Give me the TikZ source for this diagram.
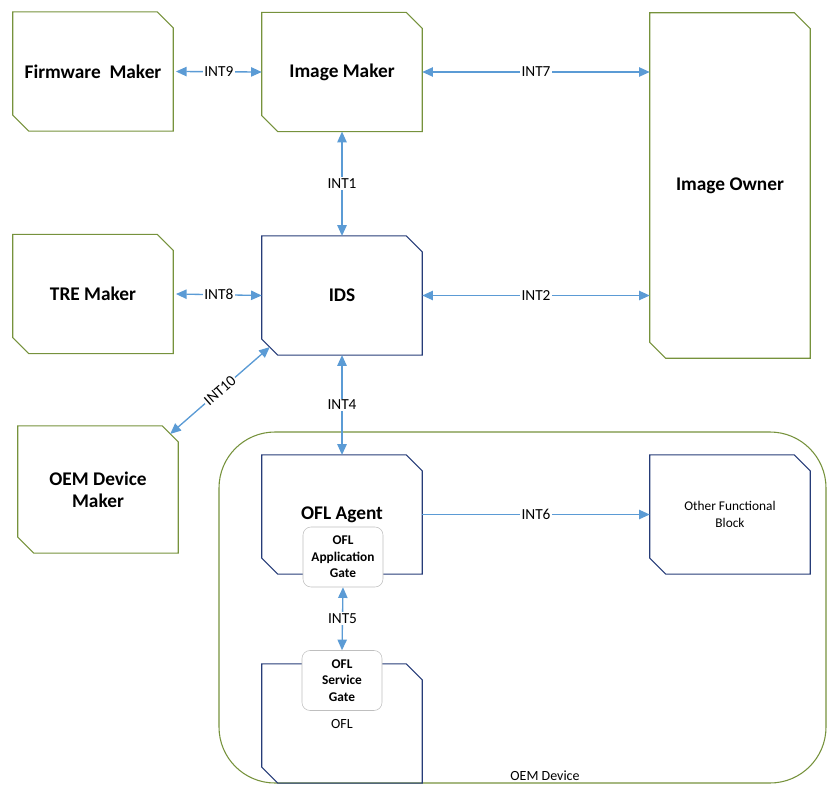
\documentclass[tikz,border=0pt]{standalone}
\usepackage{fontspec}
\setmainfont{Carlito}
\usetikzlibrary{arrows.meta}
\definecolor{boxgreen}{RGB}{118,146,60}
\definecolor{boxblue}{RGB}{38,60,120}
\definecolor{linkblue}{RGB}{91,155,213}
\definecolor{gategray}{RGB}{191,191,191}
\tikzset{
  party/.style={minimum width=120pt,minimum height=89pt,inner sep=2pt,align=center,font=\fontsize{14.5}{16.5}\selectfont\bfseries},
  unit/.style={minimum width=120pt,minimum height=89pt,inner sep=2pt,align=center,font=\fontsize{10}{12.5}\selectfont},
  gate/.style={draw=gategray,fill=white,rounded corners=6pt,minimum width=60pt,minimum height=45pt,inner sep=1pt,align=center,font=\fontsize{10}{12.5}\selectfont\bfseries},
  link/.style={draw=linkblue,line width=1pt},
  intf/.style={fill=white,inner sep=1pt,font=\fontsize{11.5}{13}\selectfont},
}
% outline with cut corners (north east and south west)
\newcommand\cutcorners[2]{\draw[#2,line width=0.8pt] (#1.north west) -- ([xshift=-12pt]#1.north east) -- ([yshift=-12pt]#1.north east) -- (#1.south east) -- ([xshift=12pt]#1.south west) -- ([yshift=12pt]#1.south west) -- cycle;}
\begin{document}
\begin{tikzpicture}[x=0.75pt,y=-0.75pt,>={Triangle[length=8pt,width=7pt]}]
\useasboundingbox (0,0) rectangle (827,785);
%\draw[step=50,gray,very thin] (0,0) grid (827,785); %background grid
\draw[boxgreen,line width=0.8pt,rounded corners=42pt] (219,432) rectangle (826,783);
\node[font=\fontsize{10.5}{12}\selectfont,inner sep=1pt] (devlbl) at (545,776) {OEM Device};

\node[party] (fwmk) at (93,71.5) {Firmware\ \ Maker};
\node[party] (imgmk) at (342,72) {Image Maker};
\node[party,minimum height=258.75pt] (owner) at (730,185.5) {Image Owner};
\node[party] (tremk) at (93,294) {TRE Maker};
\node[party] (ids) at (342,295.5) {IDS};
\node[party,minimum height=95pt] (oemmk) at (98,489.5) {OEM Device\\Maker};
\node[party] (agent) at (342,514.5) {OFL Agent};
\node[unit] (other) at (730,514.5) {Other Functional\\Block};
\node[unit,font=\fontsize{10.5}{12}\selectfont] (ofl) at (342,723.5) {OFL};

\foreach \n in {fwmk,imgmk,owner,tremk,oemmk} {\cutcorners{\n}{boxgreen}}
\foreach \n in {ids,agent,other,ofl} {\cutcorners{\n}{boxblue}}

\node[gate] (appgate) at (343,557) {OFL\\Application\\Gate};
\node[gate] (svcgate) at (342,680.5) {OFL\\Service\\Gate};

\coordinate (omcut) at ([xshift=-6pt,yshift=-6pt]oemmk.north east);
\coordinate (idscut) at ([xshift=6pt,yshift=6pt]ids.south west);

\draw[link,<->] ([xshift=2pt]fwmk.east) -- (imgmk.west) node[intf,midway] {INT9};
\draw[link,<->] (imgmk.east) -- (owner.west |- imgmk.east) node[intf,midway] {INT7};
\draw[link,<->] (imgmk.south) -- (ids.north) node[intf,midway] {INT1};
\draw[link,<->] ([xshift=2pt]tremk.east) -- (ids.west) node[intf,midway] {INT8};
\draw[link,<->] (ids.east) -- (owner.west |- ids.east) node[intf,midway] {INT2};
\draw[link,<->] (omcut) -- (idscut) node[intf,midway,sloped] {INT10};
\draw[link,<->] (ids.south) -- (agent.north) node[intf,midway] {INT4};
\draw[link,->] (agent.east) -- (other.west) node[intf,midway] {INT6};
\draw[link,<->] (appgate.south) -- (svcgate.north) node[intf,midway] {INT5};
\end{tikzpicture}
\end{document}
